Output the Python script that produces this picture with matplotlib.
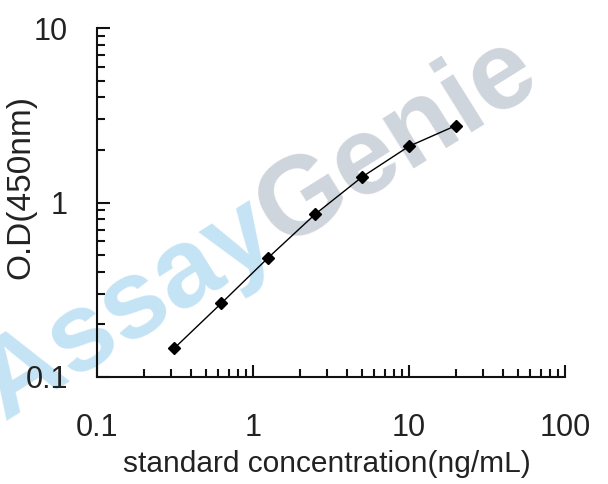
import numpy as np
import matplotlib
matplotlib.use("Agg")
import matplotlib.pyplot as plt
from matplotlib.ticker import LogLocator, NullFormatter, FixedLocator, FixedFormatter

# standard curve data
conc = [0.3125, 0.625, 1.25, 2.5, 5, 10, 20]
od = [0.146, 0.264, 0.482, 0.856, 1.40, 2.10, 2.76]

x_ticks = [0.1, 1, 10, 100]
x_labels = ["0.1", "1", "10", "100"]
y_ticks = [0.1, 1, 10]
y_labels = ["0.1", "1", "10"]

plt.rcParams['font.family'] = ['Liberation Sans', 'DejaVu Sans']

W, H = 608, 484
fig = plt.figure(figsize=(W / 100, H / 100), dpi=100)
ax = fig.add_axes([97 / W, 1 - 377 / H, (565 - 97) / W, (377 - 28) / H])
ax.set_facecolor('none')

# watermark
ang = 32
jx, jy = 282 / W, 1 - 248 / H
fig.text(jx, jy, "Assay", color="#c4e3f4", fontsize=80, fontweight="bold",
         rotation=ang, rotation_mode="anchor", ha="right", va="baseline", zorder=-5)
fig.text(jx, jy, "Genie", color="#cfd5dc", fontsize=80, fontweight="bold",
         rotation=ang, rotation_mode="anchor", ha="left", va="baseline", zorder=-5)

ax.plot(conc, od, color="black", lw=1.0, marker="D", ms=6, mfc="black",
        mec="black", zorder=3)

ax.set_xscale("log")
ax.set_yscale("log")
ax.set_xlim(0.1, 100)
ax.set_ylim(0.1, 10)

ax.xaxis.set_major_locator(FixedLocator(x_ticks))
ax.xaxis.set_major_formatter(FixedFormatter(x_labels))
ax.yaxis.set_major_locator(FixedLocator(y_ticks))
ax.yaxis.set_major_formatter(FixedFormatter(y_labels))
ax.xaxis.set_minor_locator(LogLocator(base=10, subs=np.arange(2, 10)))
ax.yaxis.set_minor_locator(LogLocator(base=10, subs=np.arange(2, 10)))
ax.xaxis.set_minor_formatter(NullFormatter())
ax.yaxis.set_minor_formatter(NullFormatter())

for s in ["top", "right"]:
    ax.spines[s].set_visible(False)
for s in ["left", "bottom"]:
    ax.spines[s].set_linewidth(1.5)
    ax.spines[s].set_color("#111111")

ax.tick_params(which="major", direction="in", length=9, width=1.5,
               labelsize=22, colors="#111111", labelcolor="#222222")
ax.tick_params(which="minor", direction="in", length=6, width=1.5,
               colors="#111111")
ax.tick_params(axis="x", which="major", pad=26)
ax.tick_params(axis="y", which="major", pad=21)

fig.text(327 / W, 1 - 464 / H, "standard concentration(ng/mL)", fontsize=21.5,
         ha="center", va="center", color="#222222")
fig.text(21 / W, 1 - 187 / H, "O.D(450nm)", fontsize=24, rotation=90,
         ha="center", va="center", color="#222222")

fig.savefig("out.png", dpi=100)
